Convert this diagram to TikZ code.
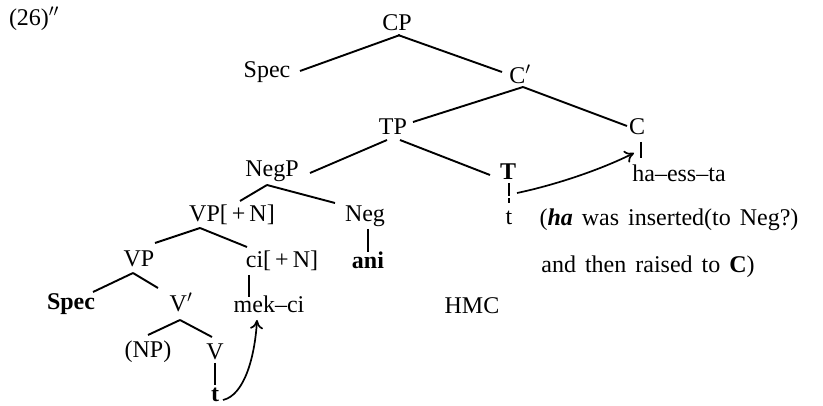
\documentclass[tikz,border=0pt]{standalone}
\usepackage{fontspec}
\setmainfont{Liberation Serif}
\usetikzlibrary{arrows.meta}
\begin{document}
\begin{tikzpicture}[x=1pt,y=-1pt,
  lbl/.style={anchor=base,inner sep=0pt,font=\fontsize{24}{28}\selectfont},
  edge/.style={line width=1.9pt},
  mv/.style={line width=1.7pt,-{To[length=9pt,width=13pt,line width=1.7pt]}}]
\useasboundingbox[fill=white] (0,0) rectangle (823,406);
% labels
\node[lbl] (lab) at (34,26) {(26)$''$};
\node[lbl] (CP) at (397,31) {CP};
\node[lbl] (SpecA) at (267,78) {Spec};
\node[lbl] (Cbar) at (520,84) {C$'$};
\node[lbl] (TP) at (393,135) {TP};
\node[lbl] (C) at (637,135) {C};
\node[lbl] (NegP) at (272,177) {NegP};
\node[lbl] (T) at (508,180) {\textbf{T}};
\node[lbl] (hast) at (679,182) {ha--ess--ta};
\node[lbl] (tA) at (509,225) {t};
\node[lbl] (note1) at (669,226) {\spaceskip=9pt plus 1pt (\textbf{\textit{ha}} was inserted(to Neg?)};
\node[lbl] (note2) at (648,273) {\spaceskip=9pt plus 1pt and then raised to \textbf{C})};
\node[lbl] (VPN) at (232,222) {VP[\,+\,N]};
\node[lbl] (Neg) at (365,222) {Neg};
\node[lbl] (VP) at (139,267) {VP};
\node[lbl] (ci) at (282,268) {ci[\,+\,N]};
\node[lbl] (ani) at (368,269) {\textbf{ani}};
\node[lbl] (SpecB) at (71,310) {\textbf{Spec}};
\node[lbl] (Vbar) at (181,312) {V$'$};
\node[lbl] (mekci) at (269,313) {mek--ci};
\node[lbl] (HMC) at (472,314) {HMC};
\node[lbl] (NP) at (148,358) {(NP)};
\node[lbl] (V) at (215,360) {V};
\node[lbl] (tB) at (215,402) {\textbf{t}};
% tree edges
\draw[edge] ([shift={(3,4)}]CP.base) -- ([shift={(33,-7)}]SpecA.base);
\draw[edge] ([shift={(1,4)}]CP.base) -- ([shift={(-18,-12)}]Cbar.base);
\draw[edge] ([shift={(3,3)}]Cbar.base) -- ([shift={(20,-13)}]TP.base);
\draw[edge] ([shift={(3,3)}]Cbar.base) -- ([shift={(-10,-9)}]C.base);
\draw[edge] ([shift={(-6,5)}]TP.base) -- ([shift={(38,-4)}]NegP.base);
\draw[edge] ([shift={(7,5)}]TP.base) -- ([shift={(-18,-5)}]T.base);
\draw[edge] ([shift={(-5,8)}]NegP.base) -- ([shift={(8,-21)}]VPN.base);
\draw[edge] ([shift={(-5,8)}]NegP.base) -- ([shift={(-30,-19)}]Neg.base);
\draw[edge] ([shift={(3,7)}]Neg.base) -- ([shift={(0,-17)}]ani.base);
\draw[edge] ([shift={(-32,6)}]VPN.base) -- ([shift={(16,-24)}]VP.base);
\draw[edge] ([shift={(-32,6)}]VPN.base) -- ([shift={(-35,-21)}]ci.base);
\draw[edge] ([shift={(-6,6)}]VP.base) -- ([shift={(22,-18)}]SpecB.base);
\draw[edge] ([shift={(-6,6)}]VP.base) -- ([shift={(-23,-24)}]Vbar.base);
\draw[edge] ([shift={(-33,7)}]ci.base) -- ([shift={(-20,-16)}]mekci.base);
\draw[edge] ([shift={(-1,8)}]Vbar.base) -- ([shift={(0,-23)}]NP.base);
\draw[edge] ([shift={(-1,8)}]Vbar.base) -- ([shift={(-3,-23)}]V.base);
\draw[edge] ([shift={(0,3)}]V.base) -- ([shift={(0,-17)}]tB.base);
\draw[edge,dash pattern=on 13pt off 2pt] ([shift={(1,3)}]T.base) -- ([shift={(0,-22)}]tA.base);
\draw[edge] ([shift={(4,7)}]C.base) -- ([shift={(-38,-24)}]hast.base);
% movement arrows
\draw[mv] ([shift={(8,-2)}]tB.base) .. controls +(22,-5) and +(-2,35) .. ([shift={(-12,7)}]mekci.base);
\draw[mv] ([shift={(9,13)}]T.base) .. controls +(38,-8) and +(-34,17) .. ([shift={(-3,18)}]C.base);
\end{tikzpicture}
\end{document}
